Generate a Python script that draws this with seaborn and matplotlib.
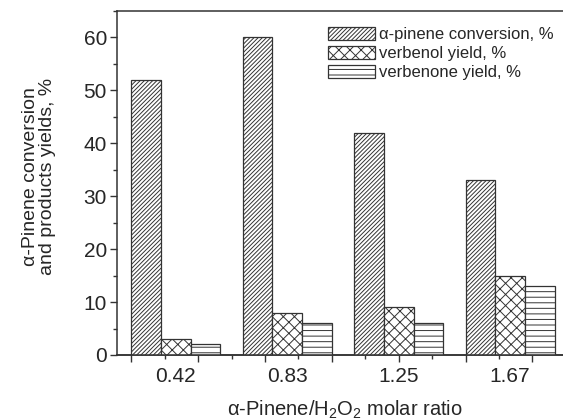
import numpy as np
import pandas as pd
import seaborn as sns
import matplotlib.pyplot as plt
from matplotlib.ticker import FixedLocator, MultipleLocator

# data
ratios = ['0.42', '0.83', '1.25', '1.67']
conversion = [52, 60, 42, 33]
verbenol = [3, 8, 9, 15]
verbenone = [2, 6, 6, 13]
series_names = ['α-pinene conversion, %', 'verbenol yield, %', 'verbenone yield, %']

df = pd.DataFrame({
    'ratio': ratios * 3,
    'series': [series_names[0]] * 4 + [series_names[1]] * 4 + [series_names[2]] * 4,
    'value': conversion + verbenol + verbenone,
})

sns.set_style('ticks')
plt.rcParams['font.family'] = ['Liberation Sans', 'DejaVu Sans']
plt.rcParams['mathtext.fontset'] = 'custom'
plt.rcParams['mathtext.rm'] = 'Liberation Sans'
plt.rcParams['mathtext.it'] = 'Liberation Sans:italic'
plt.rcParams['hatch.linewidth'] = 0.7

dark = '#333333'

fig = plt.figure(figsize=(5.63, 4.2), dpi=100)
ax = fig.add_axes([0.2073, 0.1548, 0.7927, 0.819])

sns.barplot(data=df, x='ratio', y='value', hue='series', palette=['white'] * 3,
            saturation=1, edgecolor=dark, linewidth=0.9, width=0.8,
            legend=False, ax=ax)

for cont, h in zip(ax.containers, ['/' * 8, 'xxx', '---']):
    for bar in cont:
        bar.set_hatch(h)

ax.set_xlim(-0.53, 3.474)
ax.set_ylim(0, 65)

for side in ['left', 'bottom', 'top']:
    ax.spines[side].set_color(dark)
    ax.spines[side].set_linewidth(1.1)
ax.spines['right'].set_visible(False)

# y ticks
ax.yaxis.set_major_locator(MultipleLocator(10))
ax.yaxis.set_minor_locator(MultipleLocator(5))
ax.tick_params(axis='y', which='major', direction='out', length=5, width=1,
               color=dark, labelsize=15, pad=2)
ax.tick_params(axis='y', which='minor', direction='out', length=3, width=1, color=dark)

# category labels without ticks
ax.tick_params(axis='x', which='major', length=0, labelsize=15, pad=9)

# decorative bottom ticks like the original
sec = ax.secondary_xaxis('bottom')
sec.xaxis.set_major_locator(FixedLocator(np.arange(-0.4, 3.4, 0.6)))
sec.xaxis.set_minor_locator(FixedLocator(np.arange(-0.1, 3.4, 0.6)))
sec.tick_params(which='major', direction='out', length=5, width=1, color=dark, labelbottom=False)
sec.tick_params(which='minor', direction='out', length=3, width=1, color=dark)
sec.spines['bottom'].set_color(dark)
sec.spines['bottom'].set_linewidth(1.1)

ax.set_xlabel('α-Pinene/H$_2$O$_2$ molar ratio', fontsize=14.5)
ax.xaxis.set_label_coords(0.511, -0.128)
ax.set_ylabel('α-Pinene conversion\nand products yields, %', fontsize=14, linespacing=1.0)
ax.yaxis.set_label_coords(-0.136, 0.52)

ax.legend(ax.containers, series_names, loc='upper left',
          bbox_to_anchor=(328 / 563, 1 - 27 / 420), bbox_transform=fig.transFigure,
          frameon=False, fontsize=12, handlelength=2.8, handleheight=0.85,
          handletextpad=0.25, labelspacing=0.2, borderpad=0, borderaxespad=0)

fig.savefig('out.png', dpi=100)
